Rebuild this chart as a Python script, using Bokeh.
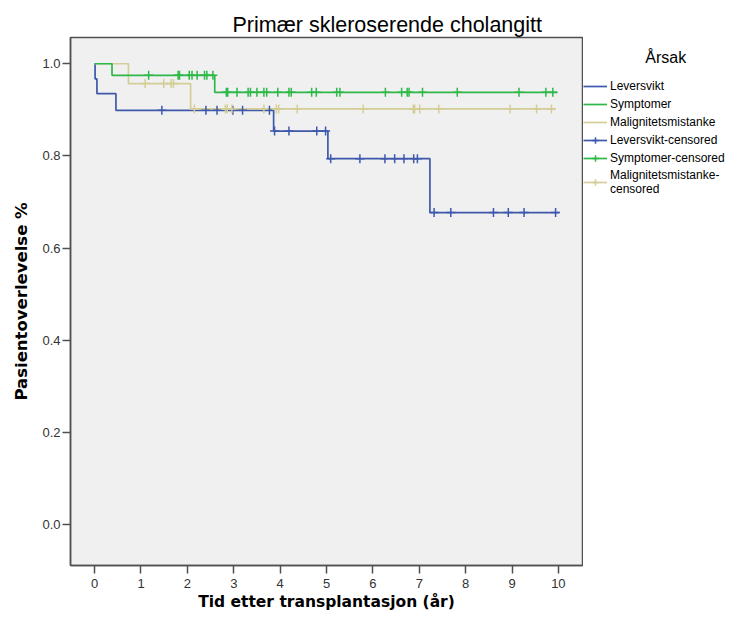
import numpy as np
from bokeh.plotting import figure
from bokeh.layouts import row
from bokeh.models import (Range1d, FixedTicker, PrintfTickFormatter, Legend, LegendItem,
                          Title, ColumnDataSource)
from bokeh.embed import file_html
from bokeh.resources import INLINE

# ---- data (Kaplan-Meier curves) ----
lev_t = [0.0, 0.01, 0.05, 0.46, 3.86, 5.03, 7.23, 10.01]
lev_s = [1.0, 0.967, 0.935, 0.899, 0.854, 0.794, 0.677, 0.677]
sym_t = [0.0, 0.375, 2.59, 9.98]
sym_s = [1.0, 0.975, 0.938, 0.938]
mal_t = [0.0, 0.73, 2.07, 9.94]
mal_s = [1.0, 0.957, 0.902, 0.902]

# censored times
lev_ct = [1.45, 2.40, 2.64, 2.98, 3.19, 3.77, 3.88, 4.19, 4.79, 4.98, 5.09, 5.72, 6.26,
          6.47, 6.67, 6.88, 6.96, 7.32, 7.68, 8.60, 8.92, 9.26, 9.94]
sym_ct = [1.165, 1.80, 1.83, 2.04, 2.10, 2.21, 2.37, 2.42, 2.55, 2.84, 2.87, 3.07, 3.31,
          3.36, 3.50, 3.65, 3.71, 3.95, 4.19, 4.24, 4.68, 4.78, 5.22, 5.29, 6.27, 6.62,
          6.74, 6.78, 7.07, 7.82, 9.15, 9.73, 9.88]
mal_ct = [1.09, 1.49, 1.65, 1.70, 2.15, 2.82, 2.86, 2.96, 3.65, 3.92, 3.97, 4.37, 5.79,
          6.87, 6.90, 7.01, 7.42, 8.96, 9.53, 9.85]

x_ticks = [0, 1, 2, 3, 4, 5, 6, 7, 8, 9, 10]
y_ticks = [0.0, 0.2, 0.4, 0.6, 0.8, 1.0]

labels = ["Leversvikt", "Symptomer", "Malignitetsmistanke"]
cens_labels = ["Leversvikt-censored", "Symptomer-censored", "Malignitetsmistanke-\ncensored"]
colors = ["#3E58AC", "#2EB848", "#D3CE97"]


def surv_at(times, steps_t, steps_s):
    idx = np.searchsorted(np.array(steps_t), np.array(times), side="right") - 1
    return list(np.array(steps_s)[idx])


p = figure(width=583, height=613, output_backend="svg", toolbar_location=None,
           x_range=Range1d(-0.52, 10.52), y_range=Range1d(-0.089, 1.057),
           min_border_left=70, min_border_right=1, min_border_top=37, min_border_bottom=48)

p.background_fill_color = "#F0F0F0"
p.border_fill_color = "white"
p.outline_line_color = "#505050"
p.outline_line_width = 1.5
p.xgrid.visible = False
p.ygrid.visible = False

for ax in (p.xaxis, p.yaxis):
    ax.axis_line_color = "#505050"
    ax.axis_line_width = 1.5
    ax.major_tick_line_color = "#505050"
    ax.major_tick_line_width = 1.5
    ax.major_tick_out = 8
    ax.major_tick_in = 0
    ax.minor_tick_line_color = None
    ax.major_label_text_font = "Liberation Sans"
    ax.major_label_text_font_size = "13px"
    ax.major_label_text_color = "#333333"
    ax.axis_label_text_font = "DejaVu Sans"
    ax.axis_label_text_font_style = "bold"
    ax.axis_label_text_color = "black"

p.xaxis.major_label_standoff = 5
p.yaxis.major_label_standoff = 2
p.xaxis.ticker = FixedTicker(ticks=x_ticks)
p.yaxis.ticker = FixedTicker(ticks=y_ticks)
p.yaxis.formatter = PrintfTickFormatter(format="%.1f")
p.xaxis.axis_label = "Tid etter transplantasjon (år)"
p.yaxis.axis_label = "Pasientoverlevelse %"
p.xaxis.axis_label_text_font_size = "15.5px"
p.yaxis.axis_label_text_font_size = "16.5px"
p.xaxis.axis_label_standoff = 2
p.yaxis.axis_label_standoff = 8

p.add_layout(Title(text="Primær skleroserende cholangitt", align="left", offset=162,
                   standoff=2, text_font="Liberation Sans", text_font_size="21.5px",
                   text_font_style="normal", text_color="black"), "above")

curves = [(lev_t, lev_s, lev_ct), (sym_t, sym_s, sym_ct), (mal_t, mal_s, mal_ct)]
for i in [0, 2, 1]:
    t, s, ct = curves[i]
    p.step(t, s, mode="after", line_color=colors[i], line_width=1.7)
for i in [0, 2, 1]:
    t, s, ct = curves[i]
    src = ColumnDataSource(dict(x=ct, y=surv_at(ct, t, s)))
    p.scatter("x", "y", source=src, marker="cross", size=9,
              line_color=colors[i], line_width=1.5)

# ---- legend panel (separate canvas to the right of the plot frame) ----
lg = figure(width=145, height=613, output_backend="svg", toolbar_location=None,
            x_range=Range1d(-30, -29), y_range=Range1d(-30, -29),
            x_axis_type=None, y_axis_type=None,
            min_border_left=0, min_border_right=0, min_border_top=0, min_border_bottom=0)
lg.outline_line_color = None
lg.background_fill_color = "white"
lg.border_fill_color = "white"
lg.xgrid.visible = False
lg.ygrid.visible = False

lstep = {}
lcens = {}
for i in range(3):
    t, s, ct = curves[i]
    lstep[i] = lg.step(t, s, mode="after", line_color=colors[i], line_width=1.7)
    lcens[i] = lg.scatter(ct, surv_at(ct, t, s), marker="cross", size=9,
                          line_color=colors[i], line_width=1.5)

items = [LegendItem(label=labels[i], renderers=[lstep[i]]) for i in range(3)]
items += [LegendItem(label=cens_labels[i], renderers=[lstep[i], lcens[i]])
          for i in range(3)]

legend = Legend(items=items, location=(0, 369),
                title="\u00a0" * 14 + "Årsak",
                title_text_font="Liberation Sans", title_text_font_size="16px",
                title_text_font_style="normal", title_text_color="black",
                title_standoff=11,
                label_text_font="Liberation Sans", label_text_font_size="12px",
                label_text_color="black",
                glyph_width=24, glyph_height=16, label_height=16, spacing=2,
                label_standoff=3, padding=0, margin=0,
                border_line_color=None, background_fill_alpha=0)
lg.add_layout(legend, "center")

layout = row(p, lg, spacing=0)
open("out.html", "w").write(file_html(layout, INLINE))
